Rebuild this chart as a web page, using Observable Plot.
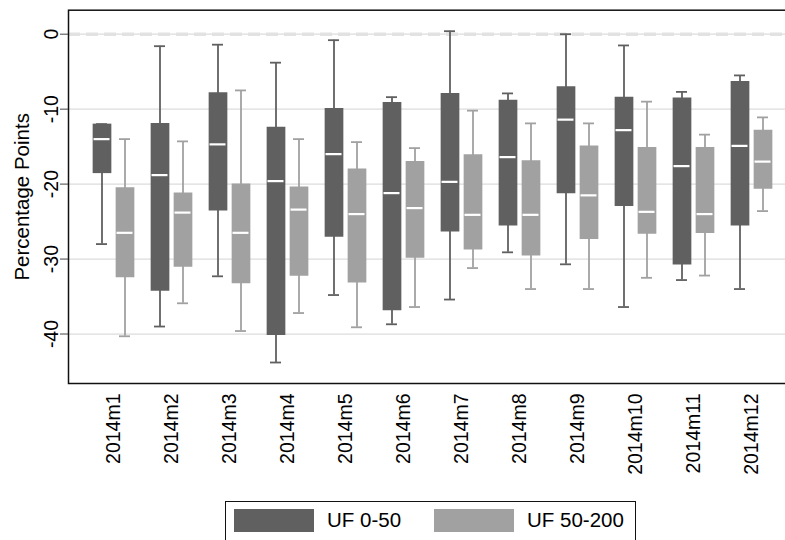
<!DOCTYPE html>
<html>
<head>
<meta charset="utf-8">
<script src="https://cdn.jsdelivr.net/npm/d3@7"></script>
<script src="https://cdn.jsdelivr.net/npm/@observablehq/plot@0.6"></script>
<style>
  html, body { margin: 0; padding: 0; background: #fff; overflow: hidden; width: 785px; height: 540px; }
  #wrap { position: relative; width: 785px; height: 540px; overflow: hidden; }
  #chart svg { display: block; max-width: none !important; width: 800px; height: 500px; }
  #legend { position: absolute; left: 225px; top: 501px; width: 411px; height: 60px;
            border: 1.3px solid #111; box-sizing: border-box; font-family: "Liberation Sans", Arial, Helvetica, sans-serif; font-size: 20.5px; color: #000; }
  .sw { position: absolute; top: 7px; width: 80px; height: 23px; }
  .lt { position: absolute; top: 6px; line-height: 24px; }
</style>
</head>
<body>
<div id="wrap">
  <div id="chart"></div>
  <div id="legend"></div>
</div>
<script>
const months = ["2014m1","2014m2","2014m3","2014m4","2014m5","2014m6","2014m7","2014m8","2014m9","2014m10","2014m11","2014m12"];
const groups = ["UF 0-50", "UF 50-200"];
const groupColors = ["#606060", "#a1a1a1"];
const yTicks = [0, -10, -20, -30, -40];
const yTitle = "Percentage Points";

// UF 0-50
const darkUpper  = [-12.0, -1.6, -1.4, -3.8, -0.8, -8.4, 0.4, -7.9, 0.0, -1.5, -7.7, -5.5];
const darkQ3     = [-12.0, -11.9, -7.8, -12.4, -9.9, -9.1, -7.9, -8.8, -7.0, -8.4, -8.5, -6.3];
const darkMedian = [-14.0, -18.8, -14.7, -19.6, -16.0, -21.2, -19.7, -16.4, -11.4, -12.8, -17.6, -14.9];
const darkQ1     = [-18.6, -34.3, -23.6, -40.2, -27.1, -36.9, -26.4, -25.6, -21.3, -23.0, -30.8, -25.6];
const darkLower  = [-28.0, -39.0, -32.3, -43.8, -34.8, -38.7, -35.4, -29.1, -30.7, -36.4, -32.8, -34.0];

// UF 50-200
const lightUpper  = [-14.0, -14.3, -7.5, -14.0, -14.4, -15.2, -10.2, -11.9, -11.9, -9.0, -13.4, -11.1];
const lightQ3     = [-20.5, -21.2, -20.0, -20.4, -18.0, -17.0, -16.1, -16.9, -14.9, -15.1, -15.1, -12.8];
const lightMedian = [-26.5, -23.8, -26.5, -23.4, -24.0, -23.2, -24.1, -24.1, -21.5, -23.7, -24.0, -17.0];
const lightQ1     = [-32.5, -31.1, -33.3, -32.3, -33.2, -29.9, -28.8, -29.6, -27.4, -26.7, -26.6, -20.7];
const lightLower  = [-40.3, -35.9, -39.6, -37.2, -39.1, -36.4, -31.2, -34.0, -34.0, -32.5, -32.2, -23.6];

function rows(up, q3, med, q1, lo) {
  return months.map((m, i) => ({month: m, hi: up[i], q3: q3[i], med: med[i], q1: q1[i], lo: lo[i]}));
}
const darkRows = rows(darkUpper, darkQ3, darkMedian, darkQ1, darkLower);
const lightRows = rows(lightUpper, lightQ3, lightMedian, lightQ1, lightLower);

function boxMarks(data, color, dx) {
  return [
    Plot.ruleX(data, {x: "month", y1: "lo", y2: "hi", stroke: color, strokeWidth: 1.8, dx}),
    Plot.tickY(data, {x: "month", y: "hi", stroke: color, strokeWidth: 1.8, insetLeft: 23.5, insetRight: 23.5, dx}),
    Plot.tickY(data, {x: "month", y: "lo", stroke: color, strokeWidth: 1.8, insetLeft: 23.5, insetRight: 23.5, dx}),
    Plot.ruleX(data, {x: "month", y1: "q1", y2: "q3", stroke: color, strokeWidth: 18.7, dx}),
    Plot.tickY(data, {x: "month", y: "med", stroke: "#ffffff", strokeWidth: 2.2, insetLeft: 21, insetRight: 21, dx})
  ];
}

const FONT = '"Liberation Sans", Arial, Helvetica, sans-serif';
const chart = Plot.plot({
  width: 800,
  height: 500,
  marginLeft: 68,
  marginRight: 4.4,
  marginTop: 9.7,
  marginBottom: 117,
  style: {fontFamily: FONT, fontSize: "19.5px", color: "#000", background: "#fff"},
  x: {type: "band", domain: months, padding: 0, insetLeft: 15.8, insetRight: 15.8},
  y: {domain: [-46.6, 3.2]},
  marks: [
    Plot.gridY(yTicks, {stroke: "#dcdcdc", strokeOpacity: 1, strokeWidth: 1.3}),
    Plot.ruleY([0], {stroke: "#e2e2e2", strokeWidth: 3.5, strokeDasharray: "12,6"}),
    ...boxMarks(darkRows, groupColors[0], -11.5),
    ...boxMarks(lightRows, groupColors[1], 11.5),
    Plot.frame({stroke: "#111", strokeWidth: 1.5}),
    Plot.axisY(yTicks, {tickSize: 8, tickRotate: -90, tickPadding: 3, tickFormat: d => String(d), stroke: "#444",
      fontSize: 19.5, fill: "#000", label: null}),
    Plot.text([yTitle], {frameAnchor: "left", rotate: -90, dx: -46, fontSize: 20.5, fill: "#000", textAnchor: "middle", lineAnchor: "middle"}),
    Plot.axisX({tickSize: 0, tickRotate: -90, tickPadding: 10, label: null, fontSize: 19.5, fill: "#000"})
  ]
});
document.getElementById("chart").appendChild(chart);

const legend = document.getElementById("legend");
const swLeft = [8, 208];
const txLeft = [101, 301];
groups.forEach((g, i) => {
  const sw = document.createElement("div");
  sw.className = "sw";
  sw.style.left = swLeft[i] + "px";
  sw.style.background = groupColors[i];
  legend.appendChild(sw);
  const t = document.createElement("div");
  t.className = "lt";
  t.style.left = txLeft[i] + "px";
  t.textContent = g;
  legend.appendChild(t);
});
</script>
</body>
</html>
